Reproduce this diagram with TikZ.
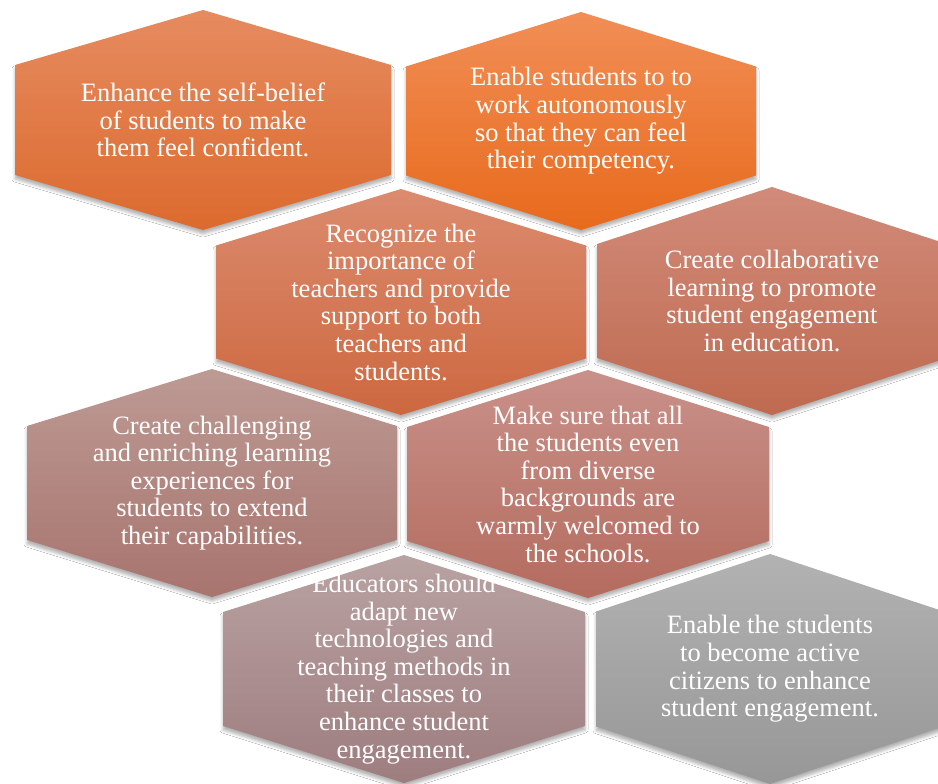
\documentclass[tikz,border=0pt]{standalone}
\usepackage{fontspec}
\setmainfont{Liberation Serif}
\usetikzlibrary{shadows.blur}

% gradient colours, top and bottom of each cell
\definecolor{aT}{HTML}{E68B60}\definecolor{aB}{HTML}{DC6A2E}
\definecolor{bT}{HTML}{F18E56}\definecolor{bB}{HTML}{E86A1C}
\definecolor{cT}{HTML}{DB8B6E}\definecolor{cB}{HTML}{CD6840}
\definecolor{dT}{HTML}{D18B7A}\definecolor{dB}{HTML}{BF6A50}
\definecolor{eT}{HTML}{BD9A94}\definecolor{eB}{HTML}{A8746E}
\definecolor{fT}{HTML}{C9918A}\definecolor{fB}{HTML}{B46B5E}
\definecolor{gT}{HTML}{B9A2A2}\definecolor{gB}{HTML}{9E7D7F}
\definecolor{hT}{HTML}{B2B2B2}\definecolor{hB}{HTML}{979797}

\tikzset{
  cell/.style={blur shadow={shadow xshift=0pt, shadow yshift=-4pt,
      shadow blur radius=3pt, shadow opacity=30}},
  celltext/.style={text=white, align=center, inner sep=0pt,
      font=\fontsize{26.5}{27.6}\selectfont}
}

% #1 name, #2 cx, #3 cy, #4 half width, #5 half height,
% #6 top colour, #7 bottom colour, #8 text
\newcommand\hexcell[8]{%
  \path[cell, top color=#6, bottom color=#7]
    (#2,#3-#5) -- (#2+#4,#3-#5/2) -- (#2+#4,#3+#5/2) -- (#2,#3+#5)
    -- (#2-#4,#3+#5/2) -- (#2-#4,#3-#5/2) -- cycle;
  \node[celltext] (#1) at (#2,#3) {#8};
}

\begin{document}
\begin{tikzpicture}[x=1pt,y=-1pt]
  \fill[white] (0,0) rectangle (938,784);
  \useasboundingbox (0,0) rectangle (938,784);
  \clip (0,0) rectangle (938,784);

  \hexcell{selfbelief}{203}{120}{188}{110}{aT}{aB}
    {Enhance the self-belief\\of students to make\\them feel confident.}
  \hexcell{autonomy}{581}{121}{175}{109}{bT}{bB}
    {Enable students to to\\work autonomously\\so that they can feel\\their competency.}
  \hexcell{teachers}{401}{302}{185}{113}{cT}{cB}
    {Recognize the\\importance of\\teachers and provide\\support to both\\teachers and\\students.}
  \hexcell{collab}{772}{301}{175}{114}{dT}{dB}
    {Create collaborative\\learning to promote\\student engagement\\in education.}
  \hexcell{challenge}{212}{483}{185}{114}{eT}{eB}
    {Create challenging\\and enriching learning\\experiences for\\students to extend\\their capabilities.}
  \hexcell{welcome}{588}{484}{181}{114}{fT}{fB}
    {Make sure that all\\the students even\\from diverse\\backgrounds are\\warmly welcomed to\\the schools.}
  \hexcell{techno}{404}{669}{181}{114}{gT}{gB}
    {Educators should\\adapt new\\technologies and\\teaching methods in\\their classes to\\enhance student\\engagement.}
  \hexcell{citizens}{770}{669}{174}{115}{hT}{hB}
    {Enable the students\\to become active\\citizens to enhance\\student engagement.}
\end{tikzpicture}
\end{document}
